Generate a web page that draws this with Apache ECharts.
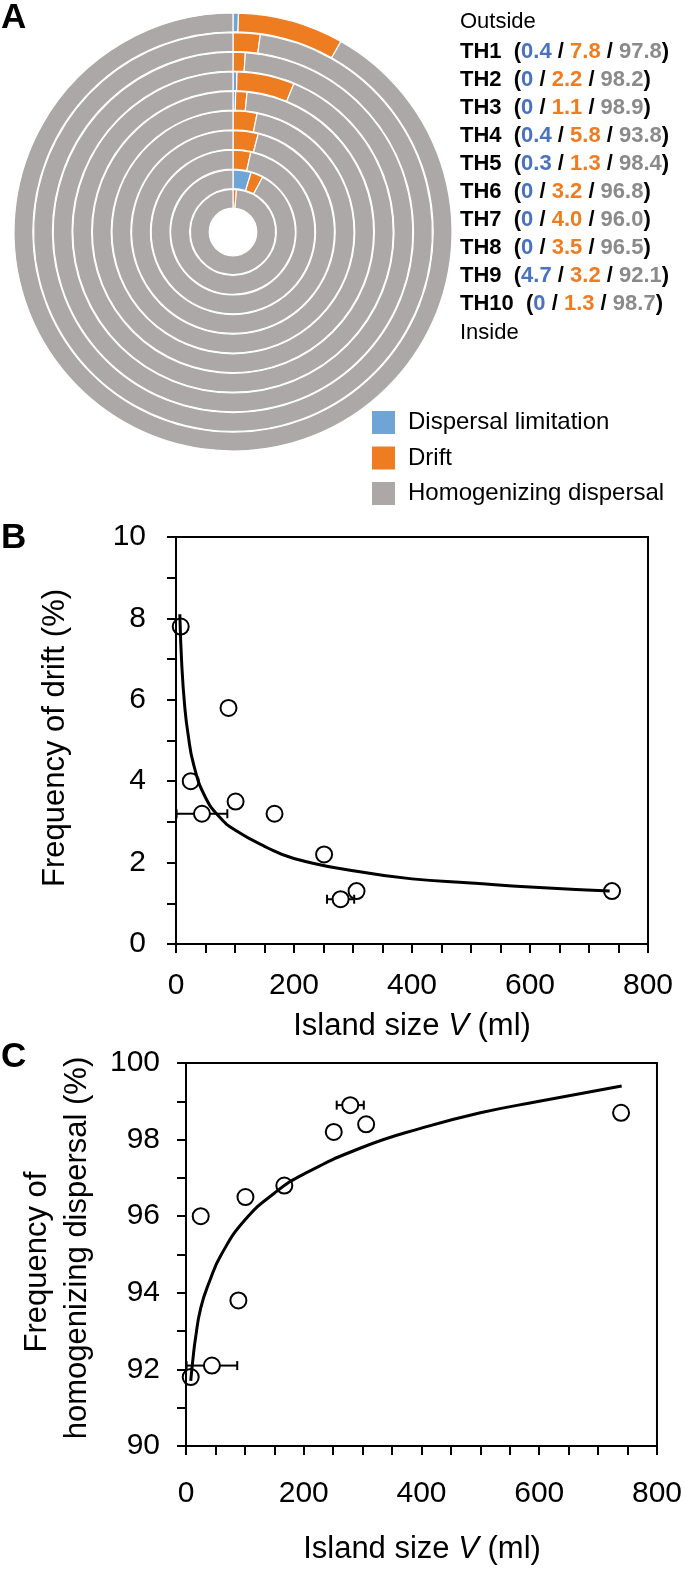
<!DOCTYPE html>
<html>
<head>
<meta charset="utf-8">
<script src="https://cdn.jsdelivr.net/npm/echarts@6/dist/echarts.min.js"></script>
<style>
    html, body { margin: 0; padding: 0; background: #fff; }
    #chart { width: 685px; height: 1573px; }
</style>
</head>
<body>
<div id="chart"></div>
<script>
// islands, outermost ring first
const islands = ['TH1', 'TH2', 'TH3', 'TH4', 'TH5', 'TH6', 'TH7', 'TH8', 'TH9', 'TH10'];
const processNames = ['Dispersal limitation', 'Drift', 'Homogenizing dispersal'];
const dispersal = [0.4, 0, 0, 0.4, 0.3, 0, 0, 0, 4.7, 0];
const drift = [7.8, 2.2, 1.1, 5.8, 1.3, 3.2, 4.0, 3.5, 3.2, 1.3];
const homog = [91.8, 98.2, 98.9, 93.8, 98.4, 96.8, 96.0, 96.5, 92.1, 98.7];
// numbers as printed next to the rings (TH1 is printed 97.8, plotted 91.8)
const dispersalText = ['0.4', '0', '0', '0.4', '0.3', '0', '0', '0', '4.7', '0'];
const driftText = ['7.8', '2.2', '1.1', '5.8', '1.3', '3.2', '4.0', '3.5', '3.2', '1.3'];
const homogText = ['97.8', '98.2', '98.9', '93.8', '98.4', '96.8', '96.0', '96.5', '92.1', '98.7'];

// island size V (ml) and its horizontal error
const islandSize = [8, 251, 279, 89, 306, 167, 25, 101, 44, 739];
const sizeErr = [0, 0, 23, 0, 0, 0, 0, 0, 43, 0];

// fitted curves
const driftFitX = [6.5, 10, 15, 20, 30, 50, 75, 100, 150, 200, 300, 400, 500, 600, 735];
const driftFitY = [8.1, 6.8, 5.8, 5.2, 4.4, 3.6, 3.1, 2.8, 2.4, 2.1, 1.8, 1.6, 1.5, 1.4, 1.3];
const homogFitX = [8, 12, 16, 25, 40, 60, 100, 150, 200, 300, 400, 500, 600, 740];
const homogFitY = [91.7, 92.3, 92.8, 93.6, 94.3, 95.0, 95.9, 96.6, 97.1, 97.8, 98.3, 98.7, 99.0, 99.4];

const FONT = '"Liberation Sans", Arial, Helvetica, sans-serif';
const colors = ['#6FA4D7', '#EE7D22', '#ABA8A7'];
const textColors = ['#4A72C0', '#EE7D22', '#8A8A8A'];

const chart = echarts.init(document.getElementById('chart'), null, { renderer: 'canvas' });

// ---- panel A: concentric rings
const ringOuter = 219, ringStep = 19.6, ringGap = 0.8;
const ringSeries = islands.map((name, i) => ({
    type: 'pie',
    name: name,
    center: [233, 232],
    radius: [ringOuter - ringStep * (i + 1) + ringGap, ringOuter - ringStep * i],
    startAngle: 90,
    clockwise: true,
    silent: true,
    animation: false,
    label: { show: false },
    labelLine: { show: false },
    emphasis: { disabled: true },
    itemStyle: { borderColor: '#fff', borderWidth: 1.2 },
    data: [dispersal[i], drift[i], homog[i]].map((v, k) => ({
        name: processNames[k], value: v, itemStyle: { color: colors[k] }
    }))
}));

// ---- text right of the rings
const rowX = 460, rowTop = 52, rowStep = 28;
const rowGraphics = [{
    type: 'text', x: rowX, y: 22,
    style: { text: 'Outside', fontSize: 22, fontFamily: FONT, fill: '#000', verticalAlign: 'middle' }
}];
islands.forEach((name, i) => {
    rowGraphics.push({
        type: 'text', x: rowX, y: rowTop + rowStep * i,
        style: {
            text: name + '  ({b|' + dispersalText[i] + '} / {o|' + driftText[i] + '} / {g|' + homogText[i] + '})',
            fontSize: 22, fontWeight: 'bold', fontFamily: FONT, fill: '#000', verticalAlign: 'middle',
            rich: {
                b: { fill: textColors[0], fontSize: 22, fontWeight: 'bold', fontFamily: FONT },
                o: { fill: textColors[1], fontSize: 22, fontWeight: 'bold', fontFamily: FONT },
                g: { fill: textColors[2], fontSize: 22, fontWeight: 'bold', fontFamily: FONT }
            }
        }
    });
});
rowGraphics.push({
    type: 'text', x: rowX, y: rowTop + rowStep * 10 + 1,
    style: { text: 'Inside', fontSize: 22, fontFamily: FONT, fill: '#000', verticalAlign: 'middle' }
});

// ---- panels B and C
function pairs(xs, ys) {
    return xs.map((x, i) => [x, ys[i]]);
}

function errorBars(idx, yVals) {
    const data = [];
    islandSize.forEach((x, i) => {
        if (sizeErr[i] > 0) data.push([x - sizeErr[i], x + sizeErr[i], yVals[i], x]);
    });
    return {
        type: 'custom',
        xAxisIndex: idx, yAxisIndex: idx,
        silent: true, z: 4,
        data: data,
        encode: { x: [0, 1], y: 2 },
        renderItem: (params, api) => {
            const a = api.coord([api.value(0), api.value(2)]);
            const b = api.coord([api.value(1), api.value(2)]);
            const c = api.coord([api.value(3), api.value(2)]);
            const r = 8, h = 4.5;
            const style = { stroke: '#000', lineWidth: 2 };
            const kids = [];
            if (c[0] - r > a[0]) kids.push({ type: 'line', shape: { x1: a[0], y1: a[1], x2: c[0] - r, y2: c[1] }, style });
            kids.push({ type: 'line', shape: { x1: c[0] + r, y1: c[1], x2: b[0], y2: b[1] }, style });
            kids.push({ type: 'line', shape: { x1: a[0], y1: a[1] - h, x2: a[0], y2: a[1] + h }, style });
            kids.push({ type: 'line', shape: { x1: b[0], y1: b[1] - h, x2: b[0], y2: b[1] + h }, style });
            return { type: 'group', children: kids };
        }
    };
}

const axisLine = { show: true, onZero: false, lineStyle: { color: '#000', width: 2 } };
const axisTick = { show: true, inside: false, length: 9, lineStyle: { color: '#000', width: 2 } };

function xAxisFor(idx, margin) {
    return {
        type: 'value', gridIndex: idx, min: 0, max: 800, interval: 50,
        axisLine: axisLine, axisTick: axisTick, splitLine: { show: false },
        axisLabel: {
            margin: margin, fontSize: 30, fontFamily: FONT, color: '#000',
            formatter: v => (v % 200 === 0 ? String(v) : '')
        }
    };
}

function yAxisFor(idx, min, max, margin) {
    return {
        type: 'value', gridIndex: idx, min: min, max: max, interval: 1,
        axisLine: axisLine, axisTick: axisTick, splitLine: { show: false },
        axisLabel: {
            margin: margin, fontSize: 30, fontFamily: FONT, color: '#000',
            formatter: v => (v % 2 === 0 ? String(v) : '')
        }
    };
}

function scatterFor(idx, yVals) {
    return {
        type: 'scatter', xAxisIndex: idx, yAxisIndex: idx, silent: true, z: 5,
        symbol: 'circle', symbolSize: 16,
        itemStyle: { color: 'rgba(0,0,0,0)', borderColor: '#000', borderWidth: 2, opacity: 1 },
        data: pairs(islandSize, yVals)
    };
}

function fitFor(idx, xs, ys) {
    return {
        type: 'line', xAxisIndex: idx, yAxisIndex: idx, silent: true, z: 3,
        smooth: 0.5, showSymbol: false, symbol: 'none',
        lineStyle: { color: '#000', width: 3 },
        data: pairs(xs, ys)
    };
}

function titleText(x, y, text, rotated) {
    return {
        type: 'text', x: x, y: y, rotation: rotated ? Math.PI / 2 : 0,
        style: {
            text: text, fontSize: 31, fontFamily: FONT, fill: '#000',
            align: 'center', verticalAlign: 'middle',
            rich: { i: { fontStyle: 'italic', fontSize: 31, fontFamily: FONT, fill: '#000' } }
        }
    };
}

function letter(x, y, t) {
    return {
        type: 'text', x: x, y: y,
        style: { text: t, fontSize: 35, fontWeight: 'bold', fontFamily: FONT, fill: '#000', verticalAlign: 'middle' }
    };
}

const option = {
    animation: false,
    backgroundColor: '#fff',
    legend: {
        data: processNames,
        orient: 'vertical',
        left: 370, top: 409,
        itemWidth: 25, itemHeight: 25, itemGap: 8.5,
        icon: 'rect',
        selectedMode: false,
        padding: 0,
        textStyle: { fontSize: 24, fontFamily: FONT, color: '#000', padding: [0, 0, 0, 7] }
    },
    grid: [
        { left: 176, top: 537, width: 472, height: 407, show: true, borderColor: '#000', borderWidth: 2, backgroundColor: 'transparent' },
        { left: 186, top: 1063, width: 472, height: 383, show: true, borderColor: '#000', borderWidth: 2, backgroundColor: 'transparent' }
    ],
    xAxis: [xAxisFor(0, 27), xAxisFor(1, 33)],
    yAxis: [yAxisFor(0, 0, 10, 30), yAxisFor(1, 90, 100, 26)],
    series: ringSeries.concat([
        fitFor(0, driftFitX, driftFitY),
        scatterFor(0, drift),
        errorBars(0, drift),
        fitFor(1, homogFitX, homogFitY),
        scatterFor(1, homog),
        errorBars(1, homog)
    ]),
    graphic: rowGraphics.concat([
        letter(1, 18, 'A'),
        letter(1, 538, 'B'),
        letter(1, 1057, 'C'),
        titleText(55, 738, 'Frequency of drift (%)', true),
        titleText(412, 1026, 'Island size {i|V} (ml)', false),
        titleText(37, 1262, 'Frequency of', true),
        titleText(77, 1248, 'homogenizing dispersal (%)', true),
        titleText(422, 1549, 'Island size {i|V} (ml)', false)
    ])
};

chart.setOption(option);
</script>
</body>
</html>
